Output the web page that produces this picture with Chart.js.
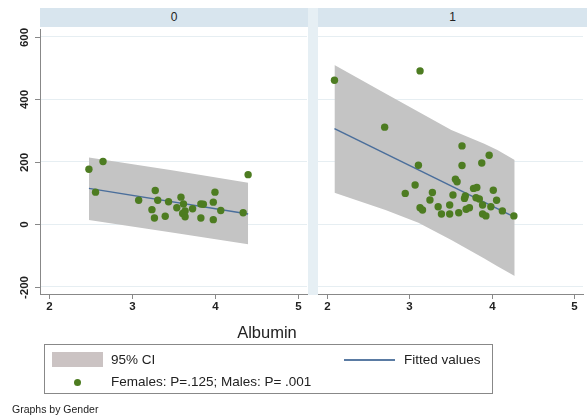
<!DOCTYPE html>
<html>
<head>
<meta charset="utf-8">
<script src="https://cdn.jsdelivr.net/npm/chart.js@4/dist/chart.umd.min.js"></script>
<style>
body { margin: 0; background: #fff; font-family: "Liberation Sans", Arial, sans-serif; color: #222; }
#wrap { position: relative; width: 587px; height: 417px; overflow: hidden; background: #fff; }
canvas { position: absolute; left: 0; top: 0; }
.strip { position: absolute; top: 8px; height: 19px; background: #d8e5ee; text-align: center; font-size: 12px; line-height: 19px; }
.gap { position: absolute; left: 308px; width: 10px; top: 8px; height: 287px; background: #e6eff4; }
.xtitle { position: absolute; left: 0; width: 534px; top: 323px; text-align: center; font-size: 16.5px; }
.legend { position: absolute; left: 44px; top: 344px; width: 449px; height: 50px; border: 1px solid #888; box-sizing: border-box; font-size: 13.5px; }
.legend div { position: absolute; }
.by { position: absolute; left: 12px; top: 403px; font-size: 10.5px; }
</style>
</head>
<body>
<div id="wrap">
  <div class="strip" style="left:40px;width:268px;">0</div>
  <div class="strip" style="left:318px;width:269px;">1</div>
  <div class="gap"></div>
  <canvas id="panel0" width="587" height="417"></canvas>
  <canvas id="panel1" width="587" height="417"></canvas>
  <div class="xtitle">Albumin</div>
  <div class="legend">
    <div style="left:7px;top:7px;width:51px;height:15px;background:#cbc3c3;"></div>
    <div style="left:66px;top:7px;line-height:16px;">95% CI</div>
    <div style="left:299px;top:14px;width:51px;height:2px;background:#5a7ba3;"></div>
    <div style="left:359px;top:7px;line-height:16px;">Fitted values</div>
    <div style="left:29px;top:34px;width:7px;height:7px;border-radius:50%;background:#4d7c21;"></div>
    <div style="left:66px;top:29px;line-height:16px;">Females: P=.125; Males: P= .001</div>
  </div>
  <div class="by">Graphs by Gender</div>
</div>
<script>
// axis ticks
const xTicks = [2, 3, 4, 5];
const yTicks = [-200, 0, 200, 400, 600];

// Gender 0
const albumin0 = [2.48, 2.65, 2.56, 3.08, 3.28, 3.31, 3.24, 3.27, 3.40, 3.44, 3.54, 3.59, 3.62, 3.61, 3.64, 3.64, 3.73, 3.83, 3.86, 3.83, 3.98, 4.00, 3.98, 4.07, 4.34, 4.40];
const value0   = [175, 200, 102, 76, 107, 76, 46, 19, 25, 71, 52, 86, 64, 34, 23, 42, 49, 64, 63, 19, 70, 102, 14, 43, 36, 158];
const fitX0 = [2.48, 4.40];
const fitY0 = [114, 32];
const ciX0 = [2.48, 3.5, 4.40];
const ciUpper0 = [213, 171, 132];
const ciLower0 = [13, -28, -65];

// Gender 1
const albumin1 = [2.09, 2.70, 3.13, 2.95, 3.07, 3.11, 3.13, 3.16, 3.25, 3.28, 3.35, 3.39, 3.49, 3.49, 3.53, 3.56, 3.58, 3.60, 3.64, 3.64, 3.67, 3.69, 3.73, 3.78, 3.82, 3.81, 3.85, 3.88, 3.89, 3.89, 3.93, 3.97, 3.99, 4.02, 4.06, 4.13, 4.27, 3.68];
const value1   = [460, 310, 490, 98, 125, 188, 52, 45, 77, 101, 55, 32, 61, 32, 93, 143, 135, 36, 250, 187, 82, 47, 52, 114, 117, 84, 80, 195, 61, 32, 26, 220, 55, 108, 76, 42, 26, 90];
const fitX1 = [2.09, 4.28];
const fitY1 = [305, 22];
const ciX1 = [2.09, 2.71, 3.11, 3.51, 3.91, 4.07, 4.28];
const ciUpper1 = [509, 418, 359, 301, 257, 237, 205];
const ciLower1 = [100, 45, 4, -51, -110, -135, -166];

const pts = (xs, ys) => xs.map((x, i) => ({ x: x, y: ys[i] }));

const axisPlugin = {
    id: 'stataAxes',
    afterDraw(chart, args, opts) {
        const ctx = chart.ctx;
        const xs = chart.scales.x;
        const ys = chart.scales.y;
        const bottom = ys.getPixelForValue(ys.min);
        ctx.save();
        ctx.strokeStyle = '#888';
        ctx.lineWidth = 1;
        ctx.fillStyle = '#222';
        ctx.font = 'bold 11.5px "Liberation Sans", Arial, sans-serif';
        ctx.textAlign = 'center';
        ctx.textBaseline = 'middle';
        xTicks.forEach(v => {
            const px = Math.round(xs.getPixelForValue(v)) + 0.5;
            ctx.beginPath();
            ctx.moveTo(px, bottom);
            ctx.lineTo(px, bottom + 5);
            ctx.stroke();
            ctx.fillText(String(v), px, bottom + 13);
        });
        if (opts.yLabels) {
            const left = xs.getPixelForValue(xs.min);
            yTicks.forEach(v => {
                const py = Math.round(ys.getPixelForValue(v)) + 0.5;
                ctx.beginPath();
                ctx.moveTo(left, py);
                ctx.lineTo(left - 5, py);
                ctx.stroke();
                ctx.save();
                ctx.translate(left - 15, py);
                ctx.rotate(-Math.PI / 2);
                ctx.fillText(String(v), 0, 0);
                ctx.restore();
            });
        }
        ctx.restore();
    }
};

function makePanel(id, albumin, value, fitX, fitY, ciX, ciUp, ciLo, padding, showY) {
    const ctx = document.getElementById(id).getContext('2d');
    return new Chart(ctx, {
        type: 'line',
        data: {
            datasets: [
                {
                    data: pts(albumin, value),
                    showLine: false,
                    pointRadius: 3.7,
                    pointBackgroundColor: '#4d7c21',
                    pointBorderWidth: 0,
                    order: 0
                },
                {
                    data: pts(fitX, fitY),
                    borderColor: '#4a6e9b',
                    borderWidth: 1.5,
                    pointRadius: 0,
                    fill: false,
                    order: 1
                },
                {
                    data: pts(ciX, ciUp),
                    borderWidth: 0,
                    pointRadius: 0,
                    backgroundColor: '#c4c4c4',
                    fill: '+1',
                    order: 2
                },
                {
                    data: pts(ciX, ciLo),
                    borderWidth: 0,
                    pointRadius: 0,
                    fill: false,
                    order: 3
                }
            ]
        },
        options: {
            responsive: false,
            animation: false,
            layout: { padding: padding },
            plugins: {
                legend: { display: false },
                tooltip: { enabled: false },
                stataAxes: { yLabels: showY }
            },
            scales: {
                x: {
                    type: 'linear',
                    min: 1.89,
                    max: 5.11,
                    afterBuildTicks: s => { s.ticks = xTicks.map(v => ({ value: v })); },
                    ticks: { display: false },
                    grid: { display: false, drawTicks: false },
                    border: { display: true, color: '#888', width: 1 }
                },
                y: {
                    type: 'linear',
                    min: -224,
                    max: 624,
                    afterBuildTicks: s => { s.ticks = yTicks.map(v => ({ value: v })); },
                    ticks: { display: false },
                    grid: { color: '#e6eef2', lineWidth: 1, drawTicks: false },
                    border: { display: showY, color: '#888', width: 1 }
                }
            }
        },
        plugins: [axisPlugin]
    });
}

makePanel('panel0', albumin0, value0, fitX0, fitY0, ciX0, ciUpper0, ciLower0,
    { left: 40, top: 29, right: 280, bottom: 123 }, true);
makePanel('panel1', albumin1, value1, fitX1, fitY1, ciX1, ciUpper1, ciLower1,
    { left: 318, top: 29, right: 0, bottom: 123 }, false);
</script>
</body>
</html>
